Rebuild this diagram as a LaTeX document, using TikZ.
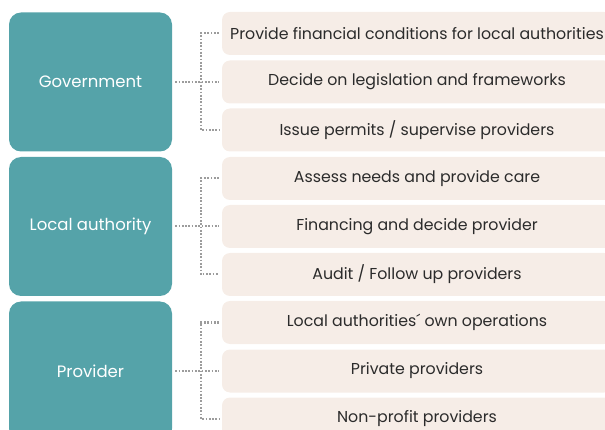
\documentclass[tikz,border=0pt]{standalone}
\usepackage{fontspec}
\setmainfont{Poppins}
\usepackage{tikz}
\usetikzlibrary{calc}
\definecolor{tealbox}{HTML}{55A3A9}
\definecolor{taskbox}{HTML}{F6EDE7}
\definecolor{tasktext}{HTML}{2B2B2B}
\definecolor{dotgray}{HTML}{9C9C9C}
\tikzset{
  role/.style={fill=tealbox, rounded corners=12pt, minimum width=163pt, minimum height=139pt, text=white, font=\fontsize{16.5}{18}\selectfont},
  task/.style={fill=taskbox, rounded corners=8pt, minimum width=390pt, minimum height=43pt, text=tasktext, font=\fontsize{15.8}{18}\selectfont},
  link/.style={draw=dotgray, line width=2pt, dash pattern=on 1.7pt off 1.6pt, shorten >=3pt}
}

\begin{document}
\begin{tikzpicture}[x=1pt, y=-1pt]
		%%%%% START %%%%%
		\useasboundingbox (0, 0) rectangle (605, 430);
		\clip (0, 0) rectangle (605, 430);
		
		% roles
		\node[role] (gov) at (90.5, 82) {Government};
		\node[role] (loc) at (90.5, 226.5) {Local authority};
		\node[role] (prov) at (90.5, 371) {Provider};
		
		% government tasks
		\node[task] (g1) at (417, 33.5) {Provide financial conditions for local authorities};
		\node[task] (g2) at (417, 82) {Decide on legislation and frameworks};
		\node[task] (g3) at (417, 130) {Issue permits / supervise providers};
		
		% local authority tasks
		\node[task] (l1) at (417, 178.5) {Assess needs and provide care};
		\node[task] (l2) at (417, 226.5) {Financing and decide provider};
		\node[task] (l3) at (417, 274.5) {Audit / Follow up providers};
		
		% provider tasks
		\node[task] (p1) at (417, 322.5) {Local authorities´ own operations};
		\node[task] (p2) at (417, 371) {Private providers};
		\node[task] (p3) at (417, 419) {Non-profit providers};
		
		% dotted links
		\coordinate (gj) at (201, 82);
		\coordinate (lj) at (201, 226.5);
		\coordinate (pj) at (201, 371);
		
		\draw[link, shorten <=3pt] (gov.east) -- (g2.west);
		\draw[link, shorten <=3pt] (g1.west) -| (gj) |- (g3.west);
		
		\draw[link, shorten <=3pt] (loc.east) -- (l2.west);
		\draw[link, shorten <=3pt] (l1.west) -| (lj) |- (l3.west);
		
		\draw[link, shorten <=3pt] (prov.east) -- (p2.west);
		\draw[link, shorten <=3pt] (p1.west) -| (pj) |- (p3.west);
		
		%%%%% END %%%%%
\end{tikzpicture}
\end{document}
